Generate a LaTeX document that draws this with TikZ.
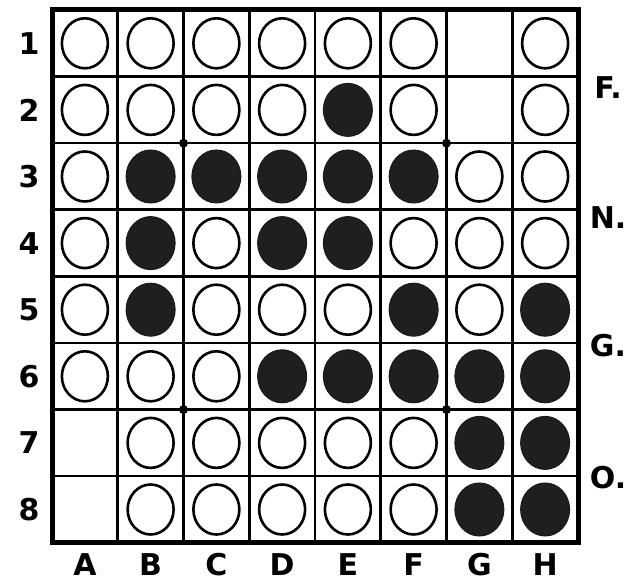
\documentclass[tikz,border=0pt]{standalone}
\usepackage{fontspec}
\usetikzlibrary{shapes.geometric}
\setmainfont{DejaVu Sans}
\begin{document}
\begin{tikzpicture}[x=1pt,y=-1pt,
  pieceW/.style={ellipse,draw=black,line width=2.6pt,fill=white,inner sep=0pt,minimum width=46pt,minimum height=50pt},
  pieceB/.style={ellipse,draw=black!90,line width=1pt,fill=black!88,inner sep=0pt,minimum width=49pt,minimum height=53pt},
  pieceE/.style={coordinate},
  lbl/.style={font=\bfseries\fontsize{30}{30}\selectfont,inner sep=0pt},
  gridline/.style={line width=2.6pt},
  frame/.style={line width=5pt},
  stardot/.style={circle,fill=black,inner sep=0pt,minimum size=9pt}]
\useasboundingbox[fill=white] (0,0) rectangle (633,585);
% grid
\foreach \i in {1,...,7} {
  \draw[gridline] ({52+65.75*\i},10) -- ({52+65.75*\i},543);
  \draw[gridline] (52,{10+66.6*\i}) -- (578,{10+66.6*\i});
}
\draw[frame] (52,10) rectangle (578,543);
% star dots
\node[stardot] (s1) at ({52+65.75*2},{10+66.6*2}) {};
\node[stardot] (s2) at ({52+65.75*6},{10+66.6*2}) {};
\node[stardot] (s3) at ({52+65.75*2},{10+66.6*6}) {};
\node[stardot] (s4) at ({52+65.75*6},{10+66.6*6}) {};
% pieces
\foreach \r/\row in {1/{W,W,W,W,W,W,E,W},2/{W,W,W,W,B,W,E,W},3/{W,B,B,B,B,B,W,W},4/{W,B,W,B,B,W,W,W},5/{W,B,W,W,W,B,W,B},6/{W,W,W,B,B,B,B,B},7/{E,W,W,W,W,W,B,B},8/{E,W,W,W,W,W,B,B}} {
  \foreach \s [count=\c] in \row {
    \node[piece\s] (p-\c-\r) at ({52+65.75*(\c-0.5)},{10+66.6*(\r-0.5)}) {};
  }
}
% row numbers
\foreach \r in {1,...,8} {
  \node[lbl] (row\r) at (29,{10+66.6*(\r-0.5)}) {\r};
}
% column letters
\foreach \l [count=\c] in {A,B,C,D,E,F,G,H} {
  \node[lbl] (col\c) at ({52+65.75*(\c-0.5)},565) {\l};
}
% side labels
\node[lbl] (nF) at (608,88) {F.};
\node[lbl] (nN) at (608,218) {N.};
\node[lbl] (nG) at (608,346) {G.};
\node[lbl] (nO) at (608,478) {O.};
\end{tikzpicture}
\end{document}
